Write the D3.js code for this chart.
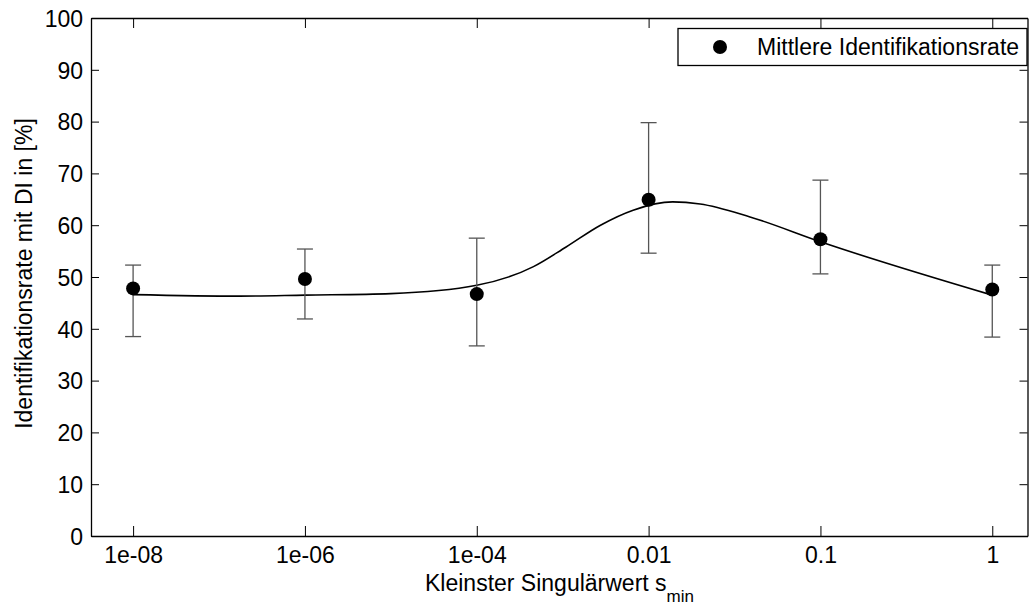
<!DOCTYPE html>
<html>
<head>
<meta charset="utf-8">
<script src="https://cdn.jsdelivr.net/npm/d3@7"></script>
<style>
  body { margin: 0; background: #fff; }
  text { font-family: "Liberation Sans", Arial, sans-serif; fill: #000; }
</style>
</head>
<body>
<script>
// data
var categories = ["1e-08", "1e-06", "1e-04", "0.01", "0.1", "1"];
var meanRate = [47.8, 49.6, 46.7, 64.9, 57.3, 47.6];
var errUpper = [52.3, 55.4, 57.5, 79.8, 68.7, 52.3];
var errLower = [38.5, 41.9, 36.7, 54.6, 50.6, 38.4];
// smooth fit curve, positions in category index units
var fitX = [1, 1.62, 2, 2.5, 3, 3.33, 3.52, 3.72, 3.91, 4.14, 4.3, 4.59, 5, 6];
var fitY = [46.6, 46.3, 46.5, 46.8, 48.4, 52.0, 55.8, 60.0, 62.9, 64.5, 64.1, 61.6, 56.8, 46.5];
var yTicks = [0, 10, 20, 30, 40, 50, 60, 70, 80, 90, 100];

var svgWidth = 1029;
var svgHeight = 607;
var margin = {top: 18, right: 1.5, bottom: 71, left: 91};
var width = svgWidth - margin.left - margin.right;
var height = svgHeight - margin.top - margin.bottom;

var svg = d3.select("body").append("svg")
  .attr("width", svgWidth)
  .attr("height", svgHeight);

var chartGroup = svg.append("g")
  .attr("transform", `translate(${margin.left}, ${margin.top})`);

var xScale = d3.scaleLinear().domain([0.755, 6.205]).range([0, width]);
var yScale = d3.scaleLinear().domain([0, 100]).range([height, 0]);
var idx = categories.map((c, i) => i + 1);

var fs = 23;

// axes (ticks inward, on all four sides)
var bottomAxis = d3.axisBottom(xScale).tickValues(idx)
  .tickFormat(d => categories[d - 1]).tickSizeInner(-10).tickSizeOuter(0).tickPadding(11);
var topAxis = d3.axisTop(xScale).tickValues(idx)
  .tickFormat("").tickSizeInner(-10).tickSizeOuter(0);
var leftAxis = d3.axisLeft(yScale).tickValues(yTicks)
  .tickSizeInner(-8).tickSizeOuter(0).tickPadding(8);
var rightAxis = d3.axisRight(yScale).tickValues(yTicks)
  .tickFormat("").tickSizeInner(-8).tickSizeOuter(0);

function styleAxis(g) {
  g.attr("font-size", fs).attr("font-family", "Liberation Sans, Arial, sans-serif");
  g.selectAll("path").attr("stroke", "#000").attr("stroke-width", 1.3);
  g.selectAll("line").attr("stroke", "#000").attr("stroke-width", 1);
  g.selectAll("text").attr("fill", "#000");
}

chartGroup.append("g").attr("transform", `translate(0, ${height})`).call(bottomAxis).call(styleAxis);
chartGroup.append("g").call(topAxis).call(styleAxis);
chartGroup.append("g").call(leftAxis).call(styleAxis)
  .selectAll("text").attr("dy", "0.36em");
chartGroup.append("g").attr("transform", `translate(${width}, 0)`).call(rightAxis).call(styleAxis);

// fit curve
var fitLine = d3.line()
  .x(d => xScale(d[0]))
  .y(d => yScale(d[1]))
  .curve(d3.curveMonotoneX);

chartGroup.append("path")
  .attr("d", fitLine(fitX.map((x, i) => [x, fitY[i]])))
  .attr("fill", "none")
  .attr("stroke", "#000")
  .attr("stroke-width", 1.6);

// error bars
var capW = 8;
var bars = chartGroup.selectAll(".err").data(idx).enter().append("g")
  .attr("class", "err")
  .attr("stroke", "#555")
  .attr("stroke-width", 1.3);
bars.append("line")
  .attr("x1", d => xScale(d)).attr("x2", d => xScale(d))
  .attr("y1", (d, i) => yScale(errUpper[i])).attr("y2", (d, i) => yScale(errLower[i]));
bars.append("line")
  .attr("x1", d => xScale(d) - capW).attr("x2", d => xScale(d) + capW)
  .attr("y1", (d, i) => yScale(errUpper[i])).attr("y2", (d, i) => yScale(errUpper[i]));
bars.append("line")
  .attr("x1", d => xScale(d) - capW).attr("x2", d => xScale(d) + capW)
  .attr("y1", (d, i) => yScale(errLower[i])).attr("y2", (d, i) => yScale(errLower[i]));

// markers
chartGroup.selectAll(".dot").data(idx).enter().append("circle")
  .attr("class", "dot")
  .attr("cx", d => xScale(d))
  .attr("cy", (d, i) => yScale(meanRate[i]))
  .attr("r", 7)
  .attr("fill", "#000");

// legend
var legend = svg.append("g").attr("transform", "translate(678, 28.5)");
legend.append("rect")
  .attr("width", 349).attr("height", 37)
  .attr("fill", "#fff").attr("stroke", "#000").attr("stroke-width", 1.3);
legend.append("circle").attr("cx", 42).attr("cy", 18.5).attr("r", 7).attr("fill", "#000");
legend.append("text").attr("x", 79).attr("y", 26.5).attr("font-size", fs)
  .text("Mittlere Identifikationsrate");

// axis labels
svg.append("text")
  .attr("transform", "translate(32, 273.5) rotate(-90)")
  .attr("text-anchor", "middle")
  .attr("font-size", fs)
  .text("Identifikationsrate mit DI in [%]");

var xl = svg.append("text")
  .attr("x", 425).attr("y", 591)
  .attr("font-size", fs);
xl.append("tspan").text("Kleinster Singulärwert s");
xl.append("tspan").attr("dy", 11).attr("font-size", 17).text("min");
</script>
</body>
</html>
